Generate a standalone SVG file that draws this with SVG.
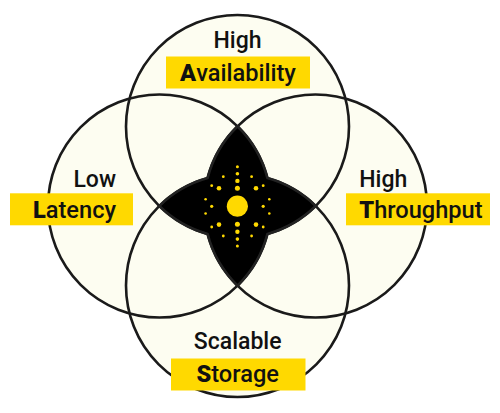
<svg xmlns="http://www.w3.org/2000/svg" width="500" height="413" viewBox="0 0 500 413">
<style>
.fill{fill:#FDFDF1;stroke:none}
.ring{fill:none;stroke:#1A1A1A;stroke-width:2.6}
.box{fill:#FFD900}
.t{font-family:Roboto,"Liberation Sans",sans-serif;font-size:23px;font-weight:500;fill:#111}
.k{font-size:23.6px;font-weight:500}
.b{font-weight:900}
.dot{fill:#FFD900}
</style>
<rect width="500" height="413" fill="#FFFFFF"/>
<g id="circle-fills">
<circle class="fill" cx="237.5" cy="126.5" r="111.5"/>
<circle class="fill" cx="159.5" cy="206" r="111.5"/>
<circle class="fill" cx="315.5" cy="206" r="111.5"/>
<circle class="fill" cx="237.5" cy="285.5" r="111.5"/>
</g>
<g id="connectors"></g>
<g id="node-availability">
<circle class="ring" cx="237.5" cy="126.5" r="111.5"/>
<rect class="box" x="166" y="56.5" width="144" height="32"/>
<text class="t" x="237.5" y="48.3" text-anchor="middle">High</text>
<text class="t k" x="238" y="80.5" text-anchor="middle"><tspan class="b">A</tspan>vailability</text>
</g>
<g id="node-latency">
<circle class="ring" cx="159.5" cy="206" r="111.5"/>
<rect class="box" x="10" y="193.3" width="123" height="32"/>
<text class="t" x="116" y="186.7" text-anchor="end">Low</text>
<text class="t k" x="116" y="218" text-anchor="end"><tspan class="b">L</tspan>atency</text>
</g>
<g id="node-throughput">
<circle class="ring" cx="315.5" cy="206" r="111.5"/>
<rect class="box" x="346" y="193.3" width="144" height="32"/>
<text class="t" x="359.3" y="186.7">High</text>
<text class="t k" x="359.3" y="218"><tspan class="b">T</tspan>hroughput</text>
</g>
<g id="node-storage">
<circle class="ring" cx="237.5" cy="285.5" r="111.5"/>
<rect class="box" x="171" y="358.5" width="134.5" height="32"/>
<text class="t" x="237.7" y="349" text-anchor="middle">Scalable</text>
<text class="t k" x="237.7" y="381.5" text-anchor="middle"><tspan class="b">S</tspan>torage</text>
</g>
<g id="node-core">
<path d="M237.5,126.3 A111.5,111.5 0 0 1 267.45,178.1 A111.5,111.5 0 0 1 315.7,206 A111.5,111.5 0 0 1 267.45,233.9 A111.5,111.5 0 0 1 237.5,285.7 A111.5,111.5 0 0 1 207.55,233.9 A111.5,111.5 0 0 1 159.3,206 A111.5,111.5 0 0 1 207.55,178.1 A111.5,111.5 0 0 1 237.5,126.3 Z" fill="#000000" stroke="#222222" stroke-width="2.6" stroke-linejoin="round"/>
<circle class="dot" cx="237.4" cy="206.2" r="10.6"/>
<circle class="dot" cx="237.4" cy="166.7" r="1.5"/>
<circle class="dot" cx="237.4" cy="173.7" r="1.8"/>
<circle class="dot" cx="237.4" cy="180.9" r="2.2"/>
<circle class="dot" cx="237.4" cy="188.3" r="2.5"/>
<circle class="dot" cx="237.4" cy="224.2" r="2.5"/>
<circle class="dot" cx="237.4" cy="231.7" r="2.2"/>
<circle class="dot" cx="237.4" cy="239.1" r="1.8"/>
<circle class="dot" cx="237.4" cy="246.1" r="1.5"/>
<circle class="dot" cx="219" cy="188.2" r="2.3"/>
<circle class="dot" cx="256" cy="188.2" r="2.3"/>
<circle class="dot" cx="219" cy="224.6" r="2.3"/>
<circle class="dot" cx="256" cy="224.6" r="2.3"/>
<circle class="dot" cx="211.7" cy="185.7" r="1.4"/>
<circle class="dot" cx="223.3" cy="176.7" r="1.4"/>
<circle class="dot" cx="251.6" cy="176.7" r="1.4"/>
<circle class="dot" cx="263.2" cy="185.7" r="1.4"/>
<circle class="dot" cx="211.7" cy="227" r="1.4"/>
<circle class="dot" cx="223.3" cy="236" r="1.4"/>
<circle class="dot" cx="251.6" cy="236" r="1.4"/>
<circle class="dot" cx="263.2" cy="227" r="1.4"/>
<circle class="dot" cx="205.6" cy="199.3" r="1.3"/>
<circle class="dot" cx="211.7" cy="206.3" r="1.6"/>
<circle class="dot" cx="205.6" cy="213.5" r="1.3"/>
<circle class="dot" cx="269.3" cy="199.3" r="1.3"/>
<circle class="dot" cx="263.2" cy="206.3" r="1.6"/>
<circle class="dot" cx="269.3" cy="213.5" r="1.3"/>
</g>
</svg>
